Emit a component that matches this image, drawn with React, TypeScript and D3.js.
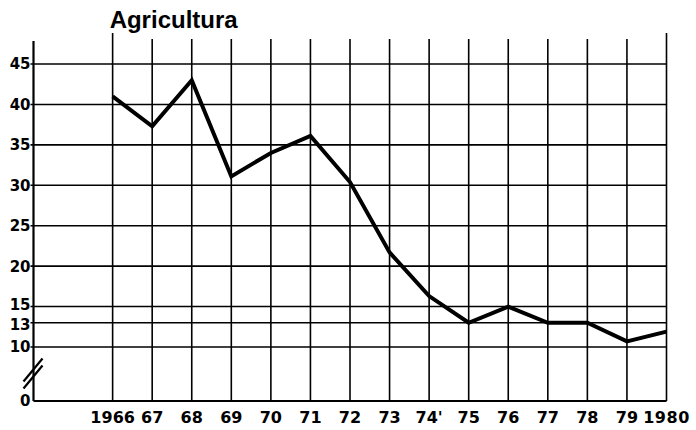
import React, { useRef, useEffect } from 'react'
import * as d3 from 'd3'

// years on the x axis and the labels printed under them
const years = [1966, 1967, 1968, 1969, 1970, 1971, 1972, 1973, 1974, 1975, 1976, 1977, 1978, 1979, 1980]
const yearLabels = ['1966', '67', '68', '69', '70', '71', '72', '73', "74'", '75', '76', '77', '78', '79', '1980']
// agriculture share
const values = [41, 37.3, 43, 31.1, 34, 36.1, 30.4, 21.7, 16.3, 13, 15, 13, 13, 10.7, 11.9]
// y ticks (axis is broken between 0 and 10)
const yTicks = [0, 10, 13, 15, 20, 25, 30, 35, 40, 45]

const W = 696
const H = 430

export default function App() {
  const ref = useRef<SVGSVGElement>(null)

  useEffect(() => {
    const svg = d3.select(ref.current)
    svg.selectAll('*').remove()

    const x = d3.scaleLinear().domain([1964, 1980]).range([33.5, 666.5])
    // polylinear scale gives the squeezed 0-10 segment
    const y = d3.scaleLinear().domain([0, 10, 45]).range([401, 347, 64])

    const gridTop = y(45) - 25

    // title
    svg
      .append('text')
      .attr('x', x(1966) - 3)
      .attr('y', 28)
      .attr('font-family', 'Liberation Sans, Arial, sans-serif')
      .attr('font-weight', 'bold')
      .attr('font-size', 24)
      .text('Agricultura')

    // horizontal grid lines
    svg
      .append('g')
      .selectAll('line')
      .data(yTicks.filter(t => t > 0))
      .enter()
      .append('line')
      .attr('x1', x(1964) - 3)
      .attr('x2', x(1980))
      .attr('y1', d => y(d))
      .attr('y2', d => y(d))
      .attr('stroke', '#000')
      .attr('stroke-width', 1.6)

    // vertical grid lines
    svg
      .append('g')
      .selectAll('line')
      .data(years)
      .enter()
      .append('line')
      .attr('x1', d => x(d))
      .attr('x2', d => x(d))
      .attr('y1', d => (d === 1966 || d === 1980 ? gridTop - 6 : gridTop))
      .attr('y2', y(0))
      .attr('stroke', '#000')
      .attr('stroke-width', 1.6)

    // axes
    svg
      .append('line')
      .attr('x1', x(1964))
      .attr('x2', x(1964))
      .attr('y1', gridTop + 2)
      .attr('y2', y(0))
      .attr('stroke', '#000')
      .attr('stroke-width', 2.2)
    svg
      .append('line')
      .attr('x1', x(1964))
      .attr('x2', x(1980))
      .attr('y1', y(0))
      .attr('y2', y(0))
      .attr('stroke', '#000')
      .attr('stroke-width', 2)

    // break marks
    const bx = x(1964)
    const by = y(5)
    ;[-3.5, 3.5].forEach(off => {
      svg
        .append('line')
        .attr('x1', bx - 10)
        .attr('y1', by + off + 11)
        .attr('x2', bx + 9)
        .attr('y2', by + off - 12)
        .attr('stroke', '#000')
        .attr('stroke-width', 2.2)
    })

    // y labels; 15 and 13 are pushed apart a little, as in the original
    const nudge = (d: number) => (d === 15 ? -1.5 : d === 13 ? 1.5 : 0)
    svg
      .append('g')
      .selectAll('text')
      .data(yTicks)
      .enter()
      .append('text')
      .attr('x', x(1964) - 3)
      .attr('y', d => y(d) + nudge(d))
      .attr('dy', '0.36em')
      .attr('text-anchor', 'end')
      .attr('font-family', 'DejaVu Sans, sans-serif')
      .attr('font-weight', 'bold')
      .attr('font-size', 15)
      .text(d => d)

    // x labels
    svg
      .append('g')
      .selectAll('text')
      .data(years)
      .enter()
      .append('text')
      .attr('x', d => x(d))
      .attr('y', y(0) + 16)
      .attr('dy', '0.36em')
      .attr('text-anchor', 'middle')
      .attr('font-family', 'DejaVu Sans, sans-serif')
      .attr('font-weight', 'bold')
      .attr('font-size', 16)
      .attr('letter-spacing', (d, i) => (i === years.length - 1 ? 0.5 : 0))
      .text((d, i) => yearLabels[i])

    // data line
    const line = d3
      .line<number>()
      .x((d, i) => x(years[i]))
      .y(d => y(d))
    svg
      .append('path')
      .datum(values)
      .attr('d', line)
      .attr('fill', 'none')
      .attr('stroke', '#000')
      .attr('stroke-width', 4)
      .attr('stroke-linejoin', 'miter')
  }, [])

  return (
    <svg
      ref={ref}
      width={W}
      height={H}
      style={{ position: 'fixed', top: 0, left: 0, background: '#fff' }}
    ></svg>
  )
}
